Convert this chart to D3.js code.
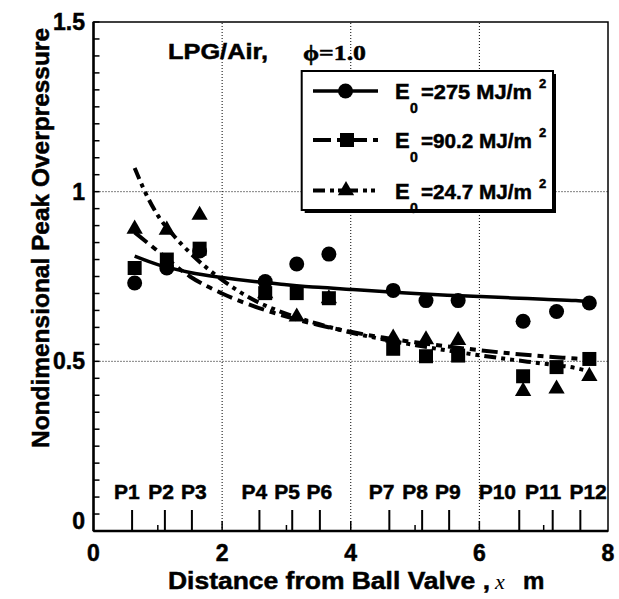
<!DOCTYPE html>
<html><head><meta charset="utf-8">
<script src="https://cdn.jsdelivr.net/npm/d3@7"></script>
<style>
body{margin:0;background:#fff}
svg{display:block}
text{font-family:"Liberation Sans",Arial,sans-serif;font-weight:bold;fill:#000;stroke:#000;stroke-width:0.5}
</style>
</head><body><svg id="c" width="619" height="599"></svg>
<script>
// ---- data ----
const sensors = ["P1","P2","P3","P4","P5","P6","P7","P8","P9","P10","P11","P12"];
const sensorX = [0.60,1.11,1.53,2.58,3.09,3.52,4.60,5.11,5.53,6.62,7.14,7.57];
const sensorLabelX = [0.52,1.05,1.56,2.50,3.01,3.51,4.48,5.00,5.51,6.28,6.99,7.69];
const dataX = [0.64,1.14,1.65,2.67,3.16,3.66,4.66,5.17,5.67,6.68,7.20,7.71];
const e275 = [0.731,0.775,0.825,0.735,0.787,0.816,0.709,0.679,0.679,0.618,0.647,0.672];
const e902 = [0.775,0.800,0.832,0.701,0.701,0.686,0.537,0.515,0.517,0.456,0.483,0.507];
const e247 = [0.890,0.887,0.931,0.700,0.631,0.685,0.569,0.564,0.562,0.412,0.419,0.456];
const fit275X = [0.64,1.0,1.5,2.0,2.5,3.0,3.5,4.0,4.5,5.0,5.5,6.0,6.5,7.0,7.5,7.71];
const fit275 = [0.810,0.785,0.762,0.747,0.735,0.726,0.718,0.712,0.706,0.700,0.695,0.691,0.687,0.683,0.679,0.676];
const fit902X = [0.64,1.0,1.5,2.0,2.5,3.0,3.5,4.0,4.5,5.0,5.5,6.0,6.5,7.0,7.5,7.71];
const fit902 = [0.880,0.825,0.750,0.700,0.662,0.632,0.607,0.587,0.570,0.556,0.544,0.533,0.523,0.515,0.508,0.505];
const fit247X = [0.64,0.8,1.0,1.25,1.5,2.0,2.5,3.0,3.5,4.0,4.5,5.0,5.5,6.0,6.5,7.0,7.5,7.71];
const fit247 = [1.070,1.000,0.930,0.870,0.820,0.740,0.680,0.640,0.610,0.585,0.565,0.548,0.532,0.518,0.505,0.493,0.480,0.470];
const xTicks = [0,2,4,6,8];
const xMinor = [1,3,5,7];
const yTicks = [0,0.5,1,1.5];
const yTickLabels = ["0","0.5","1","1.5"];
const legendLabels = ["=275 MJ/m","=90.2 MJ/m","=24.7 MJ/m"];

// ---- chart ----
const svg = d3.select("#c");
const x = d3.scaleLinear().domain([0,8]).range([93.5,608]);
const y = d3.scaleLinear().domain([0,1.5]).range([531,22]);

const g = svg.append("g");
g.selectAll(".gx").data([2,4,6]).join("line")
  .attr("x1",d=>x(d)).attr("x2",d=>x(d)).attr("y1",y(0)).attr("y2",y(1.5))
  .attr("stroke","#000").attr("stroke-width",1).attr("stroke-dasharray","1,2");
g.selectAll(".gy").data([0.5,1]).join("line")
  .attr("y1",d=>y(d)).attr("y2",d=>y(d)).attr("x1",x(0)).attr("x2",x(8))
  .attr("stroke","#000").attr("stroke-width",1).attr("stroke-dasharray","1,2");

const yMinor = d3.range(0,31).map(i=>i*0.05);
g.selectAll(".ym").data(yMinor).join("line")
  .attr("x1",x(0)).attr("x2",x(0)+6).attr("y1",d=>y(d)).attr("y2",d=>y(d))
  .attr("stroke","#000").attr("stroke-width",1.5);
g.selectAll(".xM").data([2,4,6]).join("line")
  .attr("x1",d=>x(d)).attr("x2",d=>x(d)).attr("y1",y(0)).attr("y2",y(0)-10)
  .attr("stroke","#000").attr("stroke-width",1.5);
g.selectAll(".xm").data(xMinor).join("line")
  .attr("x1",d=>x(d)).attr("x2",d=>x(d)).attr("y1",y(0)).attr("y2",y(0)-6)
  .attr("stroke","#000").attr("stroke-width",1.5);
g.selectAll(".xs").data(sensorX).join("line")
  .attr("x1",d=>x(d)).attr("x2",d=>x(d)).attr("y1",y(0)).attr("y2",y(0)-21)
  .attr("stroke","#000").attr("stroke-width",2);
g.selectAll(".sl").data(sensors).join("text")
  .attr("x",(d,i)=>x(sensorLabelX[i])).attr("y",499)
  .attr("text-anchor","middle").attr("font-size",21).text(d=>d);

svg.append("rect").attr("x",x(0)).attr("y",y(1.5)).attr("width",x(8)-x(0)).attr("height",y(0)-y(1.5))
  .attr("fill","none").attr("stroke","#000").attr("stroke-width",1.5);
svg.append("line").attr("x1",x(0)).attr("x2",x(0)).attr("y1",y(0)).attr("y2",y(1.5)).attr("stroke","#000").attr("stroke-width",2.5);
svg.append("line").attr("x1",x(0)).attr("x2",x(8)).attr("y1",y(0)).attr("y2",y(0)).attr("stroke","#000").attr("stroke-width",2.5);

svg.selectAll(".xl").data(xTicks).join("text")
  .attr("x",d=>x(d)).attr("y",561).attr("text-anchor","middle").attr("font-size",23).text(d=>d);
svg.selectAll(".yl").data(yTicks).join("text")
  .attr("x",85).attr("y",d=>y(d)+ (d===0?-2:8)).attr("text-anchor","end").attr("font-size",23)
  .text((d,i)=>yTickLabels[i]);

const line = d3.line().curve(d3.curveMonotoneX);
const mk = (xs,ys)=>xs.map((v,i)=>[x(v),y(ys[i])]);
svg.append("path").attr("d",line(mk(fit275X,fit275))).attr("fill","none").attr("stroke","#000").attr("stroke-width",3.5);
svg.append("path").attr("d",line(mk(fit902X,fit902))).attr("fill","none").attr("stroke","#000").attr("stroke-width",4).attr("stroke-dasharray","16,6,6,6");
svg.append("path").attr("d",line(mk(fit247X,fit247))).attr("fill","none").attr("stroke","#000").attr("stroke-width",4).attr("stroke-dasharray","12,5,4,5,4,5");

const sq = d3.symbol().type(d3.symbolSquare).size(196);
const tri = d3.symbol().type(d3.symbolTriangle).size(115);
svg.selectAll(".c275").data(e275).join("circle")
  .attr("cx",(d,i)=>x(dataX[i])).attr("cy",d=>y(d)).attr("r",7.5).attr("fill","#000");
svg.selectAll(".s902").data(e902).join("path")
  .attr("d",sq).attr("transform",(d,i)=>`translate(${x(dataX[i])},${y(d)})`).attr("fill","#000");
svg.selectAll(".t247").data(e247).join("path")
  .attr("d",tri).attr("transform",(d,i)=>`translate(${x(dataX[i])},${y(d)})`).attr("fill","#000");

svg.append("text").attr("x",168).attr("y",59).attr("font-size",22)
  .attr("textLength",100).attr("lengthAdjust","spacingAndGlyphs").text("LPG/Air,");
svg.append("text").attr("x",303).attr("y",60).attr("font-size",22)
  .style("font-family","'Liberation Serif','Times New Roman',serif")
  .attr("textLength",63).attr("lengthAdjust","spacingAndGlyphs").text("\u03D5=1.0");

const L = {x:301.7,y:71,w:251.3,h:139};
svg.append("rect").attr("x",L.x+3).attr("y",L.y+3).attr("width",L.w).attr("height",L.h).attr("fill","#000");
svg.append("rect").attr("x",L.x).attr("y",L.y).attr("width",L.w).attr("height",L.h).attr("fill","#fff").attr("stroke","#000").attr("stroke-width",2);
const rows = [91,140,190.5];
const dashes = [null,"18,6,6,6","12,5,4,4,4,4"];
rows.forEach((ry,i)=>{
  const p = svg.append("line").attr("x1",313).attr("x2",378).attr("y1",ry).attr("y2",ry)
    .attr("stroke","#000").attr("stroke-width",i===0?3.5:4);
  if(dashes[i]) p.attr("stroke-dasharray",dashes[i]);
  if(i===0) svg.append("circle").attr("cx",345.5).attr("cy",ry).attr("r",7.5).attr("fill","#000");
  if(i===1) svg.append("path").attr("d",sq).attr("transform",`translate(347,${ry})`).attr("fill","#000");
  if(i===2) svg.append("path").attr("d",tri).attr("transform",`translate(346,${ry})`).attr("fill","#000");
  svg.append("text").attr("x",395).attr("y",ry+8).attr("font-size",22).text("E");
  svg.append("text").attr("x",410).attr("y",ry+22).attr("font-size",14).text("0");
  svg.append("text").attr("x",421).attr("y",ry+8).attr("font-size",21)
    .attr("textLength",111).attr("lengthAdjust","spacingAndGlyphs").text(legendLabels[i]);
  svg.append("text").attr("x",539).attr("y",ry-3).attr("font-size",13).text("2");
});

svg.append("text").attr("x",168).attr("y",589).attr("font-size",24)
  .attr("textLength",322).attr("lengthAdjust","spacingAndGlyphs").text("Distance from Ball Valve ,");
svg.append("text").attr("x",495).attr("y",589).attr("font-size",22)
  .style("font-family","'Liberation Serif','Times New Roman',serif").style("font-style","italic").style("font-weight","normal").style("stroke-width",0).text("x");
svg.append("text").attr("x",523).attr("y",589).attr("font-size",24).text("m");
svg.append("text").attr("transform","translate(49,238) rotate(-90)").attr("text-anchor","middle")
  .attr("font-size",24).attr("textLength",420).attr("lengthAdjust","spacingAndGlyphs")
  .text("Nondimensional Peak Overpressure");
</script>
</body></html>
